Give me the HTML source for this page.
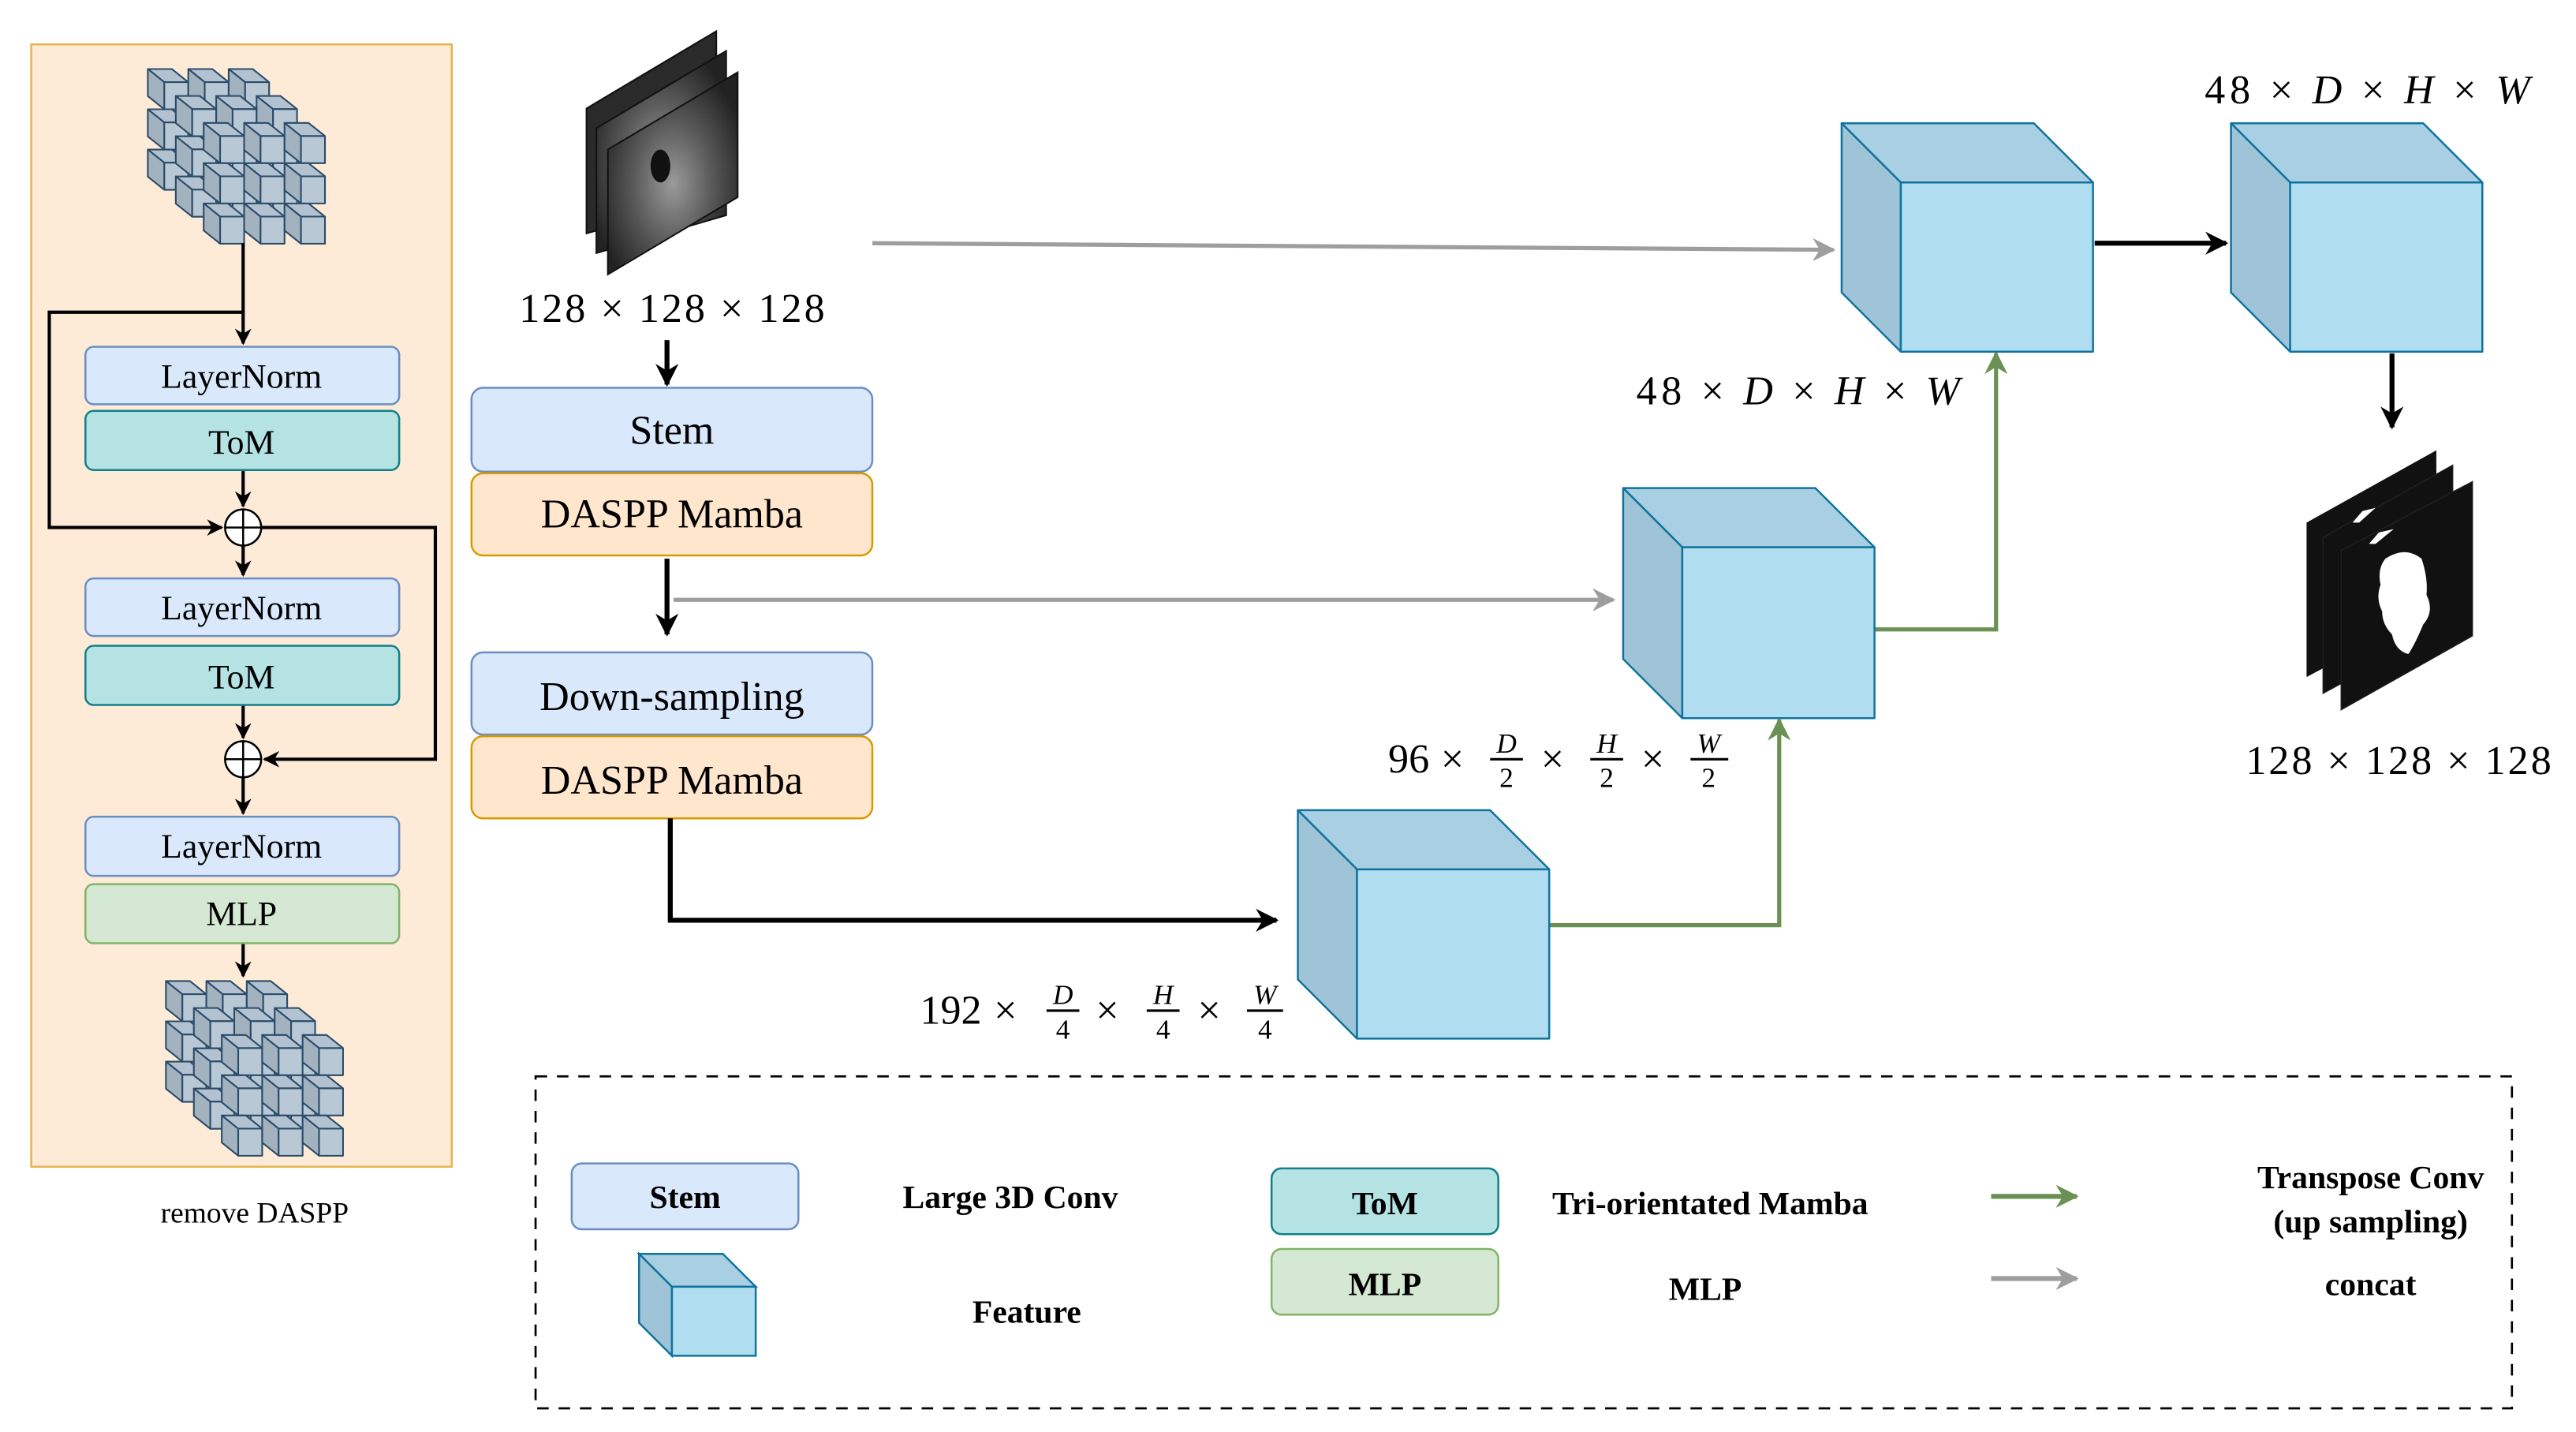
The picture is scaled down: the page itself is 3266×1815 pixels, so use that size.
<!DOCTYPE html>
<html><head><meta charset="utf-8"><style>
html,body{margin:0;padding:0;background:#fff;width:3266px;height:1815px;overflow:hidden}
svg{display:block}
text{font-family:"Liberation Serif",serif;fill:#000}
.m{font-size:25px}
.b{font-size:20px;font-weight:bold}
</style></head><body>
<svg width="3266" height="1815" viewBox="0 0 1568 871.4" preserveAspectRatio="none" xmlns="http://www.w3.org/2000/svg">
<defs>
<marker id="ak" viewBox="0 0 10 10" refX="9" refY="5" markerWidth="10" markerHeight="10" orient="auto" markerUnits="userSpaceOnUse"><path d="M0,0 L10,5 L0,10 L3,5z" fill="#000"/></marker>
<marker id="akb" viewBox="0 0 10 10" refX="9" refY="5" markerWidth="14" markerHeight="14" orient="auto" markerUnits="userSpaceOnUse"><path d="M0,0 L10,5 L0,10 L3,5z" fill="#000"/></marker>
<marker id="ag" viewBox="0 0 10 10" refX="9" refY="5" markerWidth="14" markerHeight="14" orient="auto" markerUnits="userSpaceOnUse"><path d="M0,0 L10,5 L0,10 L3,5z" fill="#9e9e9e"/></marker>
<marker id="agr" viewBox="0 0 10 10" refX="9" refY="5" markerWidth="14" markerHeight="14" orient="auto" markerUnits="userSpaceOnUse"><path d="M0,0 L10,5 L0,10 L3,5z" fill="#6a9153"/></marker>
<g id="sc" stroke="#2b4b68" stroke-width="1" stroke-linejoin="round">
<path d="M0,0 L14.6,0 L24.6,8 L10,8z" fill="#b2c2d0"/>
<path d="M0,0 L10,8 L10,24.5 L0,16.5z" fill="#a3b2bf"/>
<rect x="10" y="8" width="14.6" height="16.5" fill="#b8c8d5"/>
</g>
<g id="cl">
<use href="#sc" x="0" y="0"/><use href="#sc" x="24.6" y="0"/><use href="#sc" x="49.2" y="0"/>
<use href="#sc" x="0" y="24.5"/><use href="#sc" x="24.6" y="24.5"/><use href="#sc" x="49.2" y="24.5"/>
<use href="#sc" x="0" y="49"/><use href="#sc" x="24.6" y="49"/><use href="#sc" x="49.2" y="49"/>
<use href="#sc" x="17" y="16.4"/><use href="#sc" x="41.6" y="16.4"/><use href="#sc" x="66.2" y="16.4"/>
<use href="#sc" x="17" y="40.9"/><use href="#sc" x="41.6" y="40.9"/><use href="#sc" x="66.2" y="40.9"/>
<use href="#sc" x="17" y="65.4"/><use href="#sc" x="41.6" y="65.4"/><use href="#sc" x="66.2" y="65.4"/>
<use href="#sc" x="34" y="32.8"/><use href="#sc" x="58.6" y="32.8"/><use href="#sc" x="83.2" y="32.8"/>
<use href="#sc" x="34" y="57.3"/><use href="#sc" x="58.6" y="57.3"/><use href="#sc" x="83.2" y="57.3"/>
<use href="#sc" x="34" y="81.8"/><use href="#sc" x="58.6" y="81.8"/><use href="#sc" x="83.2" y="81.8"/>
</g>
<radialGradient id="us" cx="0.5" cy="0.55" r="0.6"><stop offset="0" stop-color="#9a9a9a"/><stop offset="0.5" stop-color="#5a5a5a"/><stop offset="1" stop-color="#222"/></radialGradient>
</defs>

<!-- left panel -->
<rect x="19" y="27" width="256" height="683" fill="#fdebd8" stroke="#e3b54c" stroke-width="1.2"/>
<use href="#cl" x="90" y="42"/>
<use href="#cl" x="101" y="597"/>
<g stroke="#000" stroke-width="2" fill="none">
<line x1="148" y1="148" x2="148" y2="209" marker-end="url(#ak)"/>
<polyline points="148,190 30,190 30,321 135,321" marker-end="url(#ak)"/>
<line x1="148" y1="286" x2="148" y2="308" marker-end="url(#ak)"/>
<line x1="148" y1="332" x2="148" y2="350" marker-end="url(#ak)"/>
<polyline points="159,321 265,321 265,462 161,462" marker-end="url(#ak)"/>
<line x1="148" y1="429" x2="148" y2="449" marker-end="url(#ak)"/>
<line x1="148" y1="473" x2="148" y2="495" marker-end="url(#ak)"/>
<line x1="148" y1="574" x2="148" y2="594" marker-end="url(#ak)"/>
</g>
<g stroke="#000" stroke-width="1.2" fill="#fff">
<circle cx="148" cy="321" r="11"/><line x1="137" y1="321" x2="159" y2="321"/><line x1="148" y1="310" x2="148" y2="332"/>
<circle cx="148" cy="462" r="11"/><line x1="137" y1="462" x2="159" y2="462"/><line x1="148" y1="451" x2="148" y2="473"/>
</g>
<g stroke-width="1.2">
<rect x="52" y="211" width="191" height="35" rx="5" fill="#dae8fc" stroke="#6c8ebf"/>
<rect x="52" y="250" width="191" height="36" rx="5" fill="#b5e2e3" stroke="#118088"/>
<rect x="52" y="352" width="191" height="35" rx="5" fill="#dae8fc" stroke="#6c8ebf"/>
<rect x="52" y="393" width="191" height="36" rx="5" fill="#b5e2e3" stroke="#118088"/>
<rect x="52" y="497" width="191" height="36" rx="5" fill="#dae8fc" stroke="#6c8ebf"/>
<rect x="52" y="538" width="191" height="36" rx="5" fill="#d5e8d4" stroke="#82b366"/>
</g>
<g font-size="21" text-anchor="middle">
<text x="147" y="236">LayerNorm</text>
<text x="147" y="276">ToM</text>
<text x="147" y="377">LayerNorm</text>
<text x="147" y="419">ToM</text>
<text x="147" y="522">LayerNorm</text>
<text x="147" y="563">MLP</text>
<text x="155" y="744" font-size="18">remove DASPP</text>
</g>

<!-- input image stack -->
<polygon points="357,66 436,19 436,120 357,142" fill="#2a2a2a" stroke="#111"/>
<polygon points="363,78 442,31 442,131 363,154" fill="url(#us)" stroke="#111"/>
<polygon points="370,91 449,44 449,120 370,167" fill="url(#us)" stroke="#111"/>
<ellipse cx="402" cy="101" rx="6" ry="10" fill="#111"/>
<text class="m" x="316" y="196" textLength="186" lengthAdjust="spacing">128 × 128 × 128</text>

<!-- encoder boxes -->
<g stroke-width="1.2">
<rect x="287" y="236" width="244" height="51" rx="7" fill="#dae8fc" stroke="#6c8ebf"/>
<rect x="287" y="288" width="244" height="50" rx="7" fill="#ffe6cc" stroke="#d79b00"/>
<rect x="287" y="397" width="244" height="50" rx="7" fill="#dae8fc" stroke="#6c8ebf"/>
<rect x="287" y="448" width="244" height="50" rx="7" fill="#ffe6cc" stroke="#d79b00"/>
</g>
<g text-anchor="middle" font-size="25">
<text x="409" y="270">Stem</text>
<text x="409" y="321">DASPP Mamba</text>
<text x="409" y="432">Down-sampling</text>
<text x="409" y="483">DASPP Mamba</text>
</g>

<!-- connectors -->
<g fill="none" stroke-width="3">
<line x1="406" y1="207" x2="406" y2="234" stroke="#000" marker-end="url(#akb)"/>
<line x1="406" y1="340" x2="406" y2="386" stroke="#000" marker-end="url(#akb)"/>
<polyline points="408,498 408,560 777,560" stroke="#000" marker-end="url(#akb)"/>
<line x1="410" y1="365" x2="982" y2="365" stroke="#9e9e9e" stroke-width="2.5" marker-end="url(#ag)"/>
<line x1="531" y1="148" x2="1116" y2="152" stroke="#9e9e9e" stroke-width="2.5" marker-end="url(#ag)"/>
<line x1="1275" y1="148" x2="1355" y2="148" stroke="#000" marker-end="url(#akb)"/>
<line x1="1456" y1="215" x2="1456" y2="260" stroke="#000" marker-end="url(#akb)"/>
<polyline points="943,563 1083,563 1083,438" stroke="#6a9153" stroke-width="2.5" marker-end="url(#agr)"/>
<polyline points="1141,383 1215,383 1215,215" stroke="#6a9153" stroke-width="2.5" marker-end="url(#agr)"/>
</g>

<!-- feature cubes -->
<g stroke="#10739e" stroke-width="1.2" stroke-linejoin="round">
<polygon points="1121,75 1238,75 1274,111 1157,111" fill="#a9d0e2"/><polygon points="1121,75 1157,111 1157,214 1121,178" fill="#9fc4d7"/><rect x="1157" y="111" width="117" height="103" fill="#b1ddf0"/>
<polygon points="1358,75 1475,75 1511,111 1394,111" fill="#a9d0e2"/><polygon points="1358,75 1394,111 1394,214 1358,178" fill="#9fc4d7"/><rect x="1394" y="111" width="117" height="103" fill="#b1ddf0"/>
<polygon points="988,297 1105,297 1141,333 1024,333" fill="#a9d0e2"/><polygon points="988,297 1024,333 1024,437 988,401" fill="#9fc4d7"/><rect x="1024" y="333" width="117" height="104" fill="#b1ddf0"/>
<polygon points="790,493 907,493 943,529 826,529" fill="#a9d0e2"/><polygon points="790,493 826,529 826,632 790,596" fill="#9fc4d7"/><rect x="826" y="529" width="117" height="103" fill="#b1ddf0"/>
</g>

<!-- dimension labels -->
<text class="m" x="996" y="246" textLength="197" lengthAdjust="spacing">48 × <tspan font-style="italic">D</tspan> × <tspan font-style="italic">H</tspan> × <tspan font-style="italic">W</tspan></text>
<text class="m" x="1342" y="63" textLength="198" lengthAdjust="spacing">48 × <tspan font-style="italic">D</tspan> × <tspan font-style="italic">H</tspan> × <tspan font-style="italic">W</tspan></text>
<text class="m" x="1367" y="471" textLength="186" lengthAdjust="spacing">128 × 128 × 128</text>

<g font-size="25">
<text x="845" y="470">96</text><text x="877" y="470">×</text><text x="938" y="470">×</text><text x="999" y="470">×</text>
<text x="560" y="623">192</text><text x="605" y="623">×</text><text x="667" y="623">×</text><text x="729" y="623">×</text>
</g>
<g font-size="17" text-anchor="middle">
<text x="917" y="458" font-style="italic">D</text><text x="917" y="479">2</text>
<text x="978" y="458" font-style="italic">H</text><text x="978" y="479">2</text>
<text x="1040" y="458" font-style="italic">W</text><text x="1040" y="479">2</text>
<text x="647" y="611" font-style="italic">D</text><text x="647" y="632">4</text>
<text x="708" y="611" font-style="italic">H</text><text x="708" y="632">4</text>
<text x="770" y="611" font-style="italic">W</text><text x="770" y="632">4</text>
</g>
<g stroke="#000" stroke-width="1.5">
<line x1="907" y1="462" x2="927" y2="462"/><line x1="968" y1="462" x2="988" y2="462"/><line x1="1029" y1="462" x2="1052" y2="462"/>
<line x1="637" y1="615" x2="657" y2="615"/><line x1="698" y1="615" x2="718" y2="615"/><line x1="759" y1="615" x2="781" y2="615"/>
</g>

<!-- output mask -->
<polygon points="1404,318 1483,274 1483,370 1404,412" fill="#111"/>
<polygon points="1414,327 1493,283 1493,379 1414,422" fill="#111" stroke="#222" stroke-width="0.6"/>
<polygon points="1425,335 1505,293 1505,387 1425,432" fill="#111" stroke="#222" stroke-width="0.6"/>
<path d="M1452,340 Q1464,332 1474,340 Q1478,352 1477,362 Q1482,372 1475,380 Q1470,392 1466,398 Q1458,396 1456,386 Q1450,380 1450,372 Q1446,364 1449,356 Q1447,346 1452,340z" fill="#fff"/>
<path d="M1432,318 L1438,311 L1446,309 L1436,318z" fill="#fff"/>
<path d="M1442,331 L1448,324 L1457,322 L1446,331z" fill="#fff"/>

<!-- legend -->
<rect x="326" y="655" width="1203" height="202" fill="none" stroke="#000" stroke-width="1.3" stroke-dasharray="7,6"/>
<rect x="348" y="708" width="138" height="40" rx="6" fill="#dae8fc" stroke="#6c8ebf" stroke-width="1.2"/>
<text class="b" x="417" y="735" text-anchor="middle">Stem</text>
<text class="b" x="615" y="735" text-anchor="middle">Large 3D Conv</text>
<g stroke="#10739e" stroke-width="1.2">
<polygon points="389,763 440,763 460,783 409,783" fill="#a9d0e2"/><polygon points="389,763 409,783 409,825 389,805" fill="#9fc4d7"/><rect x="409" y="783" width="51" height="42" fill="#b1ddf0"/>
</g>
<text class="b" x="625" y="805" text-anchor="middle">Feature</text>
<rect x="774" y="711" width="138" height="40" rx="6" fill="#b5e2e3" stroke="#118088" stroke-width="1.2"/>
<text class="b" x="843" y="739" text-anchor="middle">ToM</text>
<rect x="774" y="760" width="138" height="40" rx="6" fill="#d5e8d4" stroke="#82b366" stroke-width="1.2"/>
<text class="b" x="843" y="788" text-anchor="middle">MLP</text>
<text class="b" x="1041" y="739" text-anchor="middle">Tri-orientated Mamba</text>
<text class="b" x="1038" y="791" text-anchor="middle">MLP</text>
<line x1="1212" y1="728" x2="1264" y2="728" stroke="#6a9153" stroke-width="3" marker-end="url(#agr)"/>
<line x1="1212" y1="778" x2="1264" y2="778" stroke="#9e9e9e" stroke-width="3" marker-end="url(#ag)"/>
<text class="b" x="1443" y="723" text-anchor="middle">Transpose Conv</text>
<text class="b" x="1443" y="750" text-anchor="middle">(up sampling)</text>
<text class="b" x="1443" y="788" text-anchor="middle">concat</text>
</svg>
</body></html>
